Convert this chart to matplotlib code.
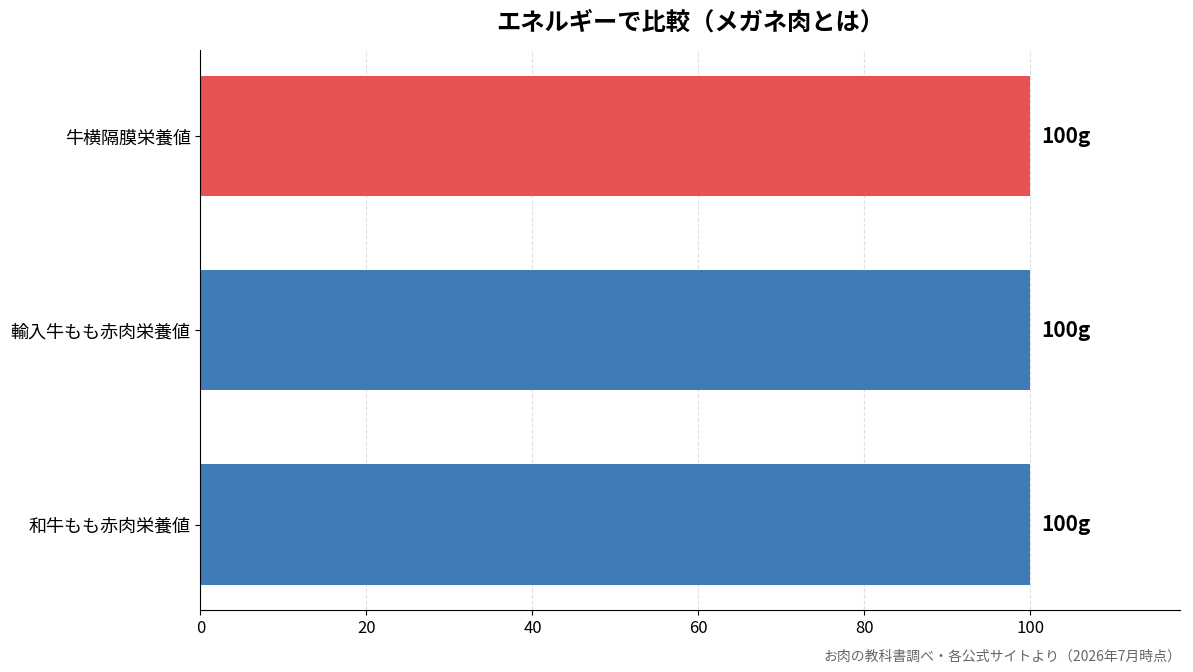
import matplotlib
matplotlib.use('Agg')
import matplotlib.pyplot as plt

plt.rcParams['font.family'] = ['Noto Sans CJK JP', 'DejaVu Sans']

categories = ['和牛もも赤肉栄養値', '輸入牛もも赤肉栄養値', '牛横隔膜栄養値']
values = [100, 100, 100]
value_labels = ['100g', '100g', '100g']
colors = ['#3f7bb7', '#3f7bb7', '#e85252']

fig, ax = plt.subplots(figsize=(11.93, 6.72), dpi=100)
fig.subplots_adjust(left=0.168, right=0.989, top=0.925, bottom=0.092)

bars = ax.barh(categories, values, height=0.62, color=colors)
for bar, lab in zip(bars, value_labels):
    ax.text(bar.get_width() + 1.3, bar.get_y() + bar.get_height() / 2, lab,
            va='center', ha='left', fontsize=15, fontweight='bold')

ax.set_xlim(0, 118)
ax.set_xticks([0, 20, 40, 60, 80, 100])
ax.tick_params(axis='y', labelsize=13)
ax.tick_params(axis='x', labelsize=12)
ax.xaxis.grid(True, linestyle='--', color='#cccccc', alpha=0.6)
ax.set_axisbelow(True)
ax.spines['top'].set_visible(False)
ax.spines['right'].set_visible(False)

ax.set_title('エネルギーで比較（メガネ肉とは）', fontsize=17.5, fontweight='bold', pad=15)
fig.text(0.99, 0.012, 'お肉の教科書調べ・各公式サイトより（2026年7月時点）',
         ha='right', va='bottom', fontsize=10, color='#666666')

plt.savefig('out.png', dpi=100)
